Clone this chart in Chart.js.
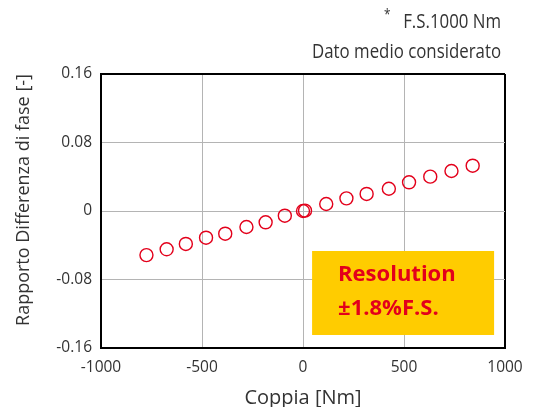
<!DOCTYPE html>
<html>
<head>
<meta charset="utf-8">
<script src="https://cdn.jsdelivr.net/npm/chart.js@4"></script>
<style>
  html, body { margin: 0; padding: 0; background: #fff; }
  #wrap { width: 536px; height: 407px; position: relative; }
</style>
</head>
<body>
<div id="wrap"><canvas id="chart" width="536" height="407"></canvas></div>
<script>
// torque [Nm] and phase difference ratio [-]
const coppia = [-775, -675, -580, -480, -385, -280, -185, -90, 0, 10, 115, 215, 315, 425, 525, 630, 735, 840];
const rapporto = [-0.0515, -0.0447, -0.0385, -0.0312, -0.0265, -0.0187, -0.0132, -0.0055, 0, 0.0004, 0.0082, 0.0148, 0.0199, 0.0260, 0.0335, 0.0401, 0.0467, 0.0529];

const xTicks = [-1000, -500, 0, 500, 1000];
const xTickLabels = ['-1000', '-500', '0', '500', '1000'];
const yTicks = [-0.16, -0.08, 0, 0.08, 0.16];
const yTickLabels = ['-0.16', '-0.08', '0', '0.08', '0.16'];

const xTitle = 'Coppia [Nm]';
const yTitle = 'Rapporto Differenza di fase [-]';
const noteLines = ['F.S.1000 Nm', 'Dato medio considerato'];
const boxLines = ['Resolution', '±1.8%F.S.'];
// box corners in data units: [x0, x1], [y0, y1]
const boxX = [45, 946];
const boxY = [-0.0467, -0.1448];

const FONT = '"Open Sans", sans-serif';
const red = '#e3001b';
const textGrey = '#333';

const points = coppia.map((x, i) => ({ x: x, y: rapporto[i] }));

// header note, y title and the yellow resolution box
const extras = {
    id: 'extras',
    beforeDatasetsDraw(chart) {
        const ctx = chart.ctx;
        const xs = chart.scales.x, ys = chart.scales.y;
        const x0 = xs.getPixelForValue(boxX[0]), x1 = xs.getPixelForValue(boxX[1]);
        const y0 = ys.getPixelForValue(boxY[0]), y1 = ys.getPixelForValue(boxY[1]);
        ctx.save();
        ctx.fillStyle = '#ffcc00';
        ctx.fillRect(x0, y0, x1 - x0, y1 - y0);
        ctx.fillStyle = red;
        ctx.font = 'bold 22px ' + FONT;
        ctx.textBaseline = 'middle';
        ctx.textAlign = 'left';
        ctx.fillText(boxLines[0], x0 + 26, y0 + 24);
        ctx.fillText(boxLines[1], x0 + 26, y0 + 58);
        ctx.restore();
    },
    afterDraw(chart) {
        const ctx = chart.ctx;
        ctx.save();
        ctx.fillStyle = textGrey;
        ctx.textBaseline = 'middle';
        ctx.font = '20px ' + FONT;
        // the note font is a narrow one: squeeze Open Sans to the same width
        const sx = 189 / ctx.measureText(noteLines[1]).width;
        ctx.save();
        ctx.translate(501, 0);
        ctx.scale(sx, 1);
        ctx.textAlign = 'right';
        ctx.fillText(noteLines[0], 0, 22);
        ctx.fillText(noteLines[1], 0, 52);
        const w = ctx.measureText(noteLines[0]).width;
        ctx.font = '14px ' + FONT;
        ctx.fillText('*', -w - 15, 15);
        ctx.restore();

        ctx.translate(24, 200);
        ctx.rotate(-Math.PI / 2);
        ctx.textAlign = 'center';
        ctx.font = '18px ' + FONT;
        ctx.fillText(yTitle, 0, 0);
        ctx.restore();
    }
};

new Chart(document.getElementById('chart'), {
    type: 'scatter',
    data: {
        datasets: [{
            data: points,
            pointStyle: 'circle',
            pointRadius: 6.5,
            pointHoverRadius: 6.5,
            pointBorderWidth: 1.4,
            borderColor: red,
            backgroundColor: 'rgba(0,0,0,0)'
        }]
    },
    options: {
        responsive: false,
        animation: false,
        events: [],
        layout: { padding: { top: 74, right: 31, left: 0, bottom: 0 } },
        plugins: { legend: { display: false }, tooltip: { enabled: false } },
        scales: {
            x: {
                type: 'linear',
                min: -1000,
                max: 1000,
                afterBuildTicks: (s) => { s.ticks = xTicks.map(v => ({ value: v })); },
                afterFit: (s) => { s.height = 59; },
                ticks: {
                    color: textGrey,
                    font: { family: FONT, size: 15.5 },
                    padding: 10,
                    maxRotation: 0,
                    callback: (v, i) => xTickLabels[i]
                },
                grid: {
                    drawTicks: false,
                    color: (c) => c.index === xTicks.length - 1 ? '#000' : '#b4b4b4',
                    lineWidth: (c) => c.index === xTicks.length - 1 ? 2 : 1
                },
                border: { color: '#000', width: 2 },
                title: { display: true, text: xTitle, color: textGrey, font: { family: FONT, size: 20 }, padding: { top: 0, bottom: -3 } }
            },
            y: {
                type: 'linear',
                min: -0.16,
                max: 0.16,
                afterBuildTicks: (s) => { s.ticks = yTicks.map(v => ({ value: v })); },
                afterFit: (s) => { s.width = 101; },
                ticks: {
                    color: textGrey,
                    font: { family: FONT, size: 15.5 },
                    padding: 9,
                    callback: (v, i) => yTickLabels[i]
                },
                grid: {
                    drawTicks: false,
                    color: (c) => c.index === yTicks.length - 1 ? '#000' : '#b4b4b4',
                    lineWidth: (c) => c.index === yTicks.length - 1 ? 2 : 1
                },
                border: { color: '#000', width: 2 },
                title: { display: false }
            }
        }
    },
    plugins: [extras]
});
</script>
</body>
</html>
